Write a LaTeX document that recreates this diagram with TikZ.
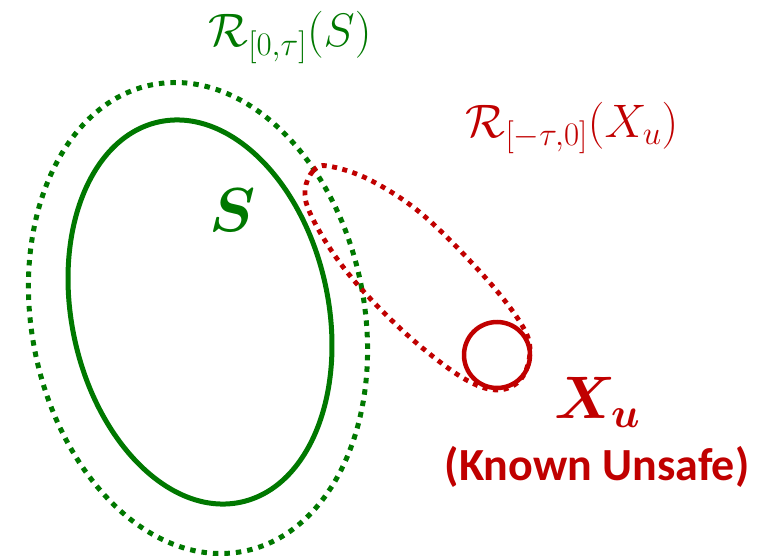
\RequirePackage{fix-cm}
\documentclass[tikz,border=0pt]{standalone}
\usepackage{bm}
\usepackage{fontspec}
\newfontfamily\carlito{Carlito}
\definecolor{sgreen}{RGB}{0,120,0}
\definecolor{ured}{RGB}{192,0,0}
\begin{document}
\begin{tikzpicture}[x=1pt,y=-1pt,
  solidset/.style={line width=5pt},
  dotset/.style={line width=5pt,dash pattern=on 5.5pt off 6pt},
  reddot/.style={line width=4.8pt,dash pattern=on 5pt off 5.5pt},
  lbl/.style={inner sep=0pt}]
\useasboundingbox (0,0) rectangle (784,559);
% green sets
\draw[sgreen,dotset] (198,318) ellipse[x radius=166.4,y radius=237.7,rotate=11];
\draw[sgreen,solidset] (200,312) ellipse[x radius=128.3,y radius=194.5,rotate=12.2];
% red backward reach set
\draw[ured,reddot] plot[smooth cycle,tension=0.6] coordinates {
  (305,190) (313,171) (328,166) (370,180) (423,215) (483,275) (520,322)
  (530,350) (521,379) (497,390) (463,378) (413,340) (365,293) (333,253) (310,213)};
% unsafe set
\draw[ured,line width=4.5pt] (497,355) circle[radius=33];
% labels
\node[lbl,anchor=base,text=sgreen] (rS) at (290,47) {\fontsize{47}{56}\selectfont$\mathcal{R}_{[0,\tau]}(S)$};
\node[lbl,anchor=base,text=ured] (rX) at (572,137) {\fontsize{47}{56}\selectfont$\mathcal{R}_{[-\tau,0]}(X_u)$};
\node[lbl,text=sgreen] (setS) at (233,210) {\fontsize{62}{70}\selectfont$\bm{S}$};
\node[lbl,anchor=base west,text=ured] (setXu) at (554,418) {\fontsize{60}{70}\selectfont$\bm{X_u}$};
\node[lbl,anchor=base,text=ured] (ku) at (597,480) {\fontsize{46}{54}\selectfont\carlito\bfseries (Known Unsafe)};
\end{tikzpicture}
\end{document}
